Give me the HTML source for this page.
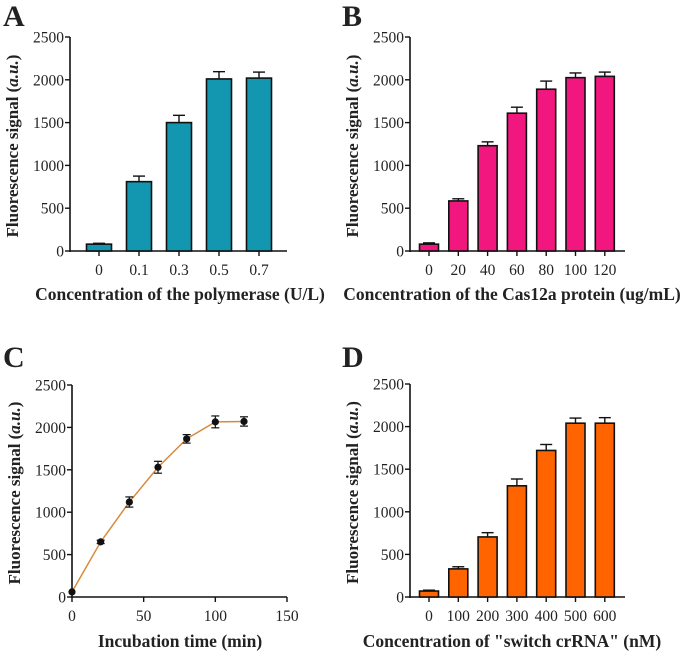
<!DOCTYPE html>
<html><head><meta charset="utf-8">
<style>
body{margin:0;background:#fff;}
svg text{font-family:"Liberation Serif",serif;fill:#222;}
</style></head>
<body>
<svg id="fig" width="685" height="654" viewBox="0 0 685 654" xmlns="http://www.w3.org/2000/svg"></svg>
<script>
const catsA = ["0","0.1","0.3","0.5","0.7"];
const valsA = [80, 810, 1500, 2010, 2020];
const errA = [10, 65, 85, 85, 70];
const catsB = ["0","20","40","60","80","100","120"];
const valsB = [80, 585, 1230, 1610, 1890, 2025, 2040];
const errB = [15, 25, 45, 70, 95, 55, 50];
const timeC = [0, 20, 40, 60, 80, 100, 120];
const valsC = [60, 650, 1120, 1530, 1865, 2065, 2070];
const errC = [0, 20, 60, 70, 50, 70, 55];
const xTicksC = [0, 50, 100, 150];
const catsD = ["0","100","200","300","400","500","600"];
const valsD = [70, 330, 705, 1305, 1720, 2040, 2040];
const errD = [10, 25, 50, 80, 70, 60, 65];
const yTicks = [0, 500, 1000, 1500, 2000, 2500];

const svg = document.getElementById('fig');
const NS = "http://www.w3.org/2000/svg";
function mk(tag, attrs, parent){
  const e = document.createElementNS(NS, tag);
  for (const k in attrs) e.setAttribute(k, attrs[k]);
  (parent||svg).appendChild(e);
  return e;
}
function txt(parent, x, y, s, size, anchor, weight){
  const t = mk('text', {x:x, y:y, 'font-size':size, 'text-anchor':anchor||'middle', 'font-weight':weight||'normal'}, parent);
  t.textContent = s;
  return t;
}

function panel(opts){
  const g = mk('g', {});
  
  
  const ax = opts.ax, y0 = opts.y0, yTop = opts.yTop, xEnd = opts.xEnd;
  const yScale = v => y0 - (v/2500)*(y0-yTop);
  const L = txt(g, opts.lx, opts.ly, opts.letter, 30, 'start', 'bold');
  
  
  const ya = mk('g', {}, g);
  
  
  mk('line', {x1:ax, y1:yTop, x2:ax, y2:y0+1, stroke:'#111', 'stroke-width':1.6}, ya);
  yTicks.forEach(v => {
    const y = yScale(v);
    mk('line', {x1:ax-5, y1:y, x2:ax, y2:y, stroke:'#111', 'stroke-width':1.4}, ya);
    txt(ya, ax-6, y+5.5, String(v), 15.5, 'end');
  });
  const yt = txt(g, 0, 0, '', 17, 'middle', 'bold');
  yt.setAttribute('transform', `translate(${ax-52},${(y0+yTop)/2 + 2}) rotate(-90)`);
  yt.innerHTML = 'Fluorescence signal (<tspan font-style="italic">a.u.</tspan>)';
  
  
  const xa = mk('g', {}, g);
  
  
  mk('line', {x1:ax, y1:y0, x2:xEnd, y2:y0, stroke:'#111', 'stroke-width':1.6}, xa);
  const xt = txt(g, opts.xtx, opts.xty, opts.xtitle, 17.5, 'middle', 'bold');
  
  
  return {g, xa, yScale};
}

function barPanel(opts, cats, vals, errs){
  const p = panel(opts);
  cats.forEach((c, i) => {
    const cx = opts.c0 + i*opts.step;
    mk('line', {x1:cx, y1:opts.y0, x2:cx, y2:opts.y0+5, stroke:'#111', 'stroke-width':1.4}, p.xa);
    txt(p.xa, cx, opts.y0+24, c, 15.5, 'middle');
    const top = p.yScale(vals[i]);
    const et = p.yScale(vals[i]+errs[i]);
    const e = mk('line', {x1:cx, y1:top, x2:cx, y2:et, stroke:'#111', 'stroke-width':1.4}, p.g);
    
    
    mk('line', {x1:cx-6, y1:et, x2:cx+6, y2:et, stroke:'#111', 'stroke-width':1.4}, p.g);
    const r = mk('rect', {x:cx-opts.bw/2, y:top, width:opts.bw, height:opts.y0-top, fill:opts.color, stroke:'#111', 'stroke-width':1.6}, p.g);
    
    
  });
}

barPanel({name:'panel-a', letter:'A', lx:3, ly:26, ax:70, y0:251, yTop:37, xEnd:287,
  c0:99, step:40, bw:25, color:'#1397b0', xtx:180, xty:300,
  xtitle:'Concentration of the polymerase (U/L)'}, catsA, valsA, errA);

barPanel({name:'panel-b', letter:'B', lx:342, ly:26, ax:410, y0:251, yTop:37, xEnd:625,
  c0:429, step:29.3, bw:19, color:'#f2177e', xtx:512, xty:300,
  xtitle:'Concentration of the Cas12a protein (ug/mL)'}, catsB, valsB, errB);

barPanel({name:'panel-d', letter:'D', lx:342, ly:367, ax:410, y0:597, yTop:384, xEnd:625,
  c0:429, step:29.3, bw:19, color:'#ff6400', xtx:512, xty:647,
  xtitle:'Concentration of "switch crRNA" (nM)'}, catsD, valsD, errD);

(function(){
  const opts = {name:'panel-c', letter:'C', lx:3, ly:367, ax:72, y0:597, yTop:385, xEnd:287,
    xtx:180, xty:647, xtitle:'Incubation time (min)'};
  const p = panel(opts);
  const xScale = v => opts.ax + (v/150)*(opts.xEnd-opts.ax);
  xTicksC.forEach(v => {
    const x = xScale(v);
    mk('line', {x1:x, y1:opts.y0, x2:x, y2:opts.y0+5, stroke:'#111', 'stroke-width':1.4}, p.xa);
    txt(p.xa, x, opts.y0+24, String(v), 15.5, 'middle');
  });
  const pts = timeC.map((t,i)=>xScale(t)+','+p.yScale(valsC[i])).join(' ');
  const line = mk('polyline', {points:pts, fill:'none', stroke:'#d98a3c', 'stroke-width':1.5}, p.g);
  
  
  timeC.forEach((t,i) => {
    const x = xScale(t), y = p.yScale(valsC[i]);
    const hi = p.yScale(valsC[i]+errC[i]), lo = p.yScale(valsC[i]-errC[i]);
    if (errC[i] > 0){
      mk('line', {x1:x, y1:hi, x2:x, y2:lo, stroke:'#111', 'stroke-width':1.2}, p.g);
      mk('line', {x1:x-4, y1:hi, x2:x+4, y2:hi, stroke:'#111', 'stroke-width':1.2}, p.g);
      mk('line', {x1:x-4, y1:lo, x2:x+4, y2:lo, stroke:'#111', 'stroke-width':1.2}, p.g);
    }
    const c = mk('circle', {cx:x, cy:y, r:3.6, fill:'#111'}, p.g);
    
    
  });
})();
</script>
</body></html>
